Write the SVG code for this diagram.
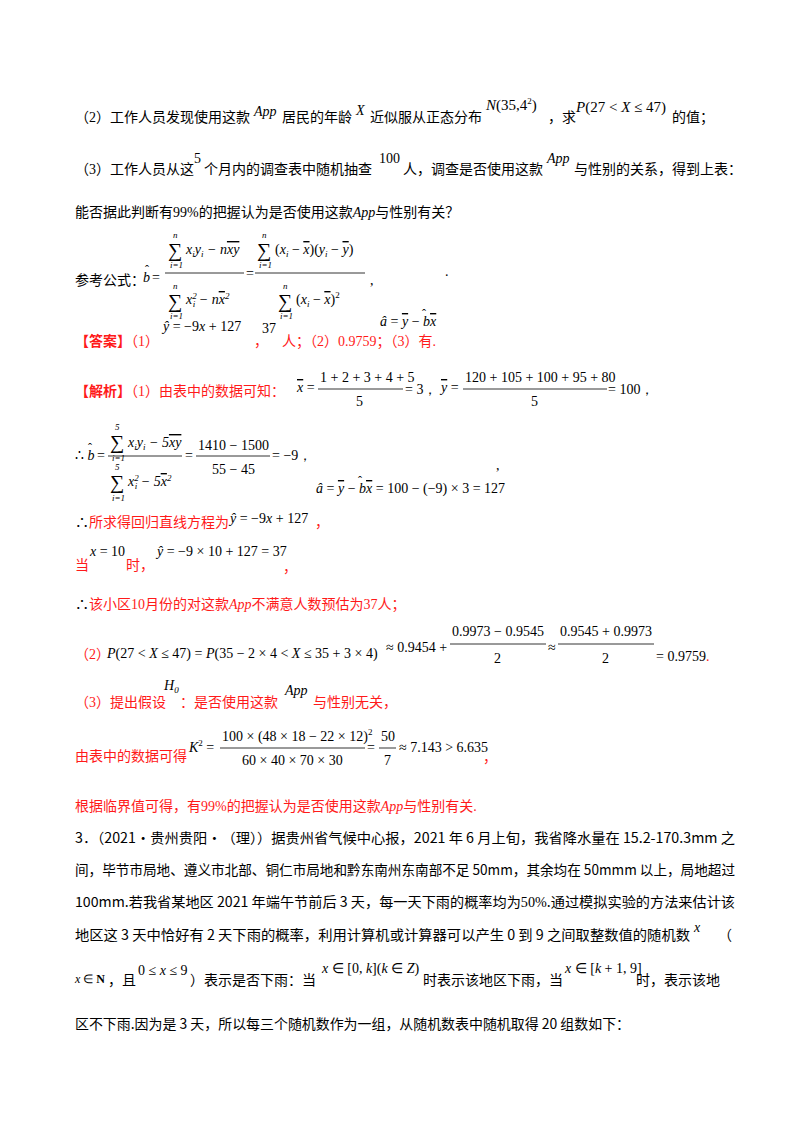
<svg xmlns="http://www.w3.org/2000/svg" width="800" height="1132" viewBox="0 0 800 1132">
<style>
text{font-family:"Liberation Serif","Noto Sans CJK SC",serif;font-size:14px;fill:#000}
.c{font-family:"Noto Sans CJK SC",sans-serif}
.r{fill:#ff1a1a}
.m{font-family:"Liberation Serif",serif;font-size:14px}
.i{font-style:italic}
.s{font-size:9px}
.sg{font-family:"Liberation Serif",serif;font-size:20px}
.hat{font-family:"Liberation Serif",serif;font-size:12px}
.rb{fill:#ff1a1a;font-weight:bold}
line{stroke:#000;stroke-width:0.8}
</style>
<rect width="800" height="1132" fill="#fff"/>
<g id="q2">
<text x="75" y="122">（2）工作人员发现使用这款</text>
<text x="254" y="116" class="m i">App</text>
<text x="282" y="122">居民的年龄</text>
<text x="356" y="115" class="m i">X</text>
<text x="370" y="122">近似服从正态分布</text>
<text x="486" y="110" class="m" style="font-size:15px"><tspan class="i">N</tspan>(35,4<tspan class="s" dy="-6">2</tspan><tspan dy="6">)</tspan></text>
<text x="548" y="122">，求</text>
<text x="576" y="112" class="m" style="font-size:15px"><tspan class="i">P</tspan>(27 &lt; <tspan class="i">X</tspan> ≤ 47)</text>
<text x="672" y="122">的值；</text>
</g>
<g id="q3">
<text x="75" y="174">（3）工作人员从这</text>
<text x="194" y="163" class="m">5</text>
<text x="204" y="174">个月内的调查表中随机抽查</text>
<text x="379" y="163" class="m">100</text>
<text x="403" y="174">人，调查是否使用这款</text>
<text x="547" y="163" class="m i">App</text>
<text x="574" y="174">与性别的关系，得到上表：</text>
<text x="75" y="217">能否据此判断有<tspan class="m">99%</tspan>的把握认为是否使用这款<tspan class="m i">App</tspan>与性别有关？</text>
</g>
<g id="formula">
<text x="75" y="285">参考公式：</text>
<text x="143" y="282" class="m i">b</text><text x="145" y="274" class="hat">ˆ</text>
<text x="152" y="282" class="m">=</text>
<text x="173" y="238" class="m i s">n</text>
<text x="168" y="257" class="sg">∑</text>
<text x="186" y="254" class="m i">x<tspan class="s" dy="3">i</tspan><tspan dy="-3">y</tspan><tspan class="s" dy="3">i</tspan><tspan dy="-3"> − n</tspan><tspan text-decoration="overline">xy</tspan></text>
<text x="170" y="268" class="m i s">i=1</text>
<line x1="165" y1="273" x2="244" y2="273"/>
<text x="173" y="289" class="m i s">n</text>
<text x="168" y="308" class="sg">∑</text>
<text x="186" y="304" class="m i">x<tspan class="s" dy="-5">2</tspan><tspan class="s" dx="-4" dy="8">i</tspan><tspan dy="-3"> − n</tspan><tspan text-decoration="overline">x</tspan><tspan class="s" dy="-5">2</tspan></text>
<text x="170" y="319" class="m i s">i=1</text>
<text x="246" y="278" class="m">=</text>
<text x="262" y="238" class="m i s">n</text>
<text x="257" y="257" class="sg">∑</text>
<text x="275" y="254" class="m">(<tspan class="i">x</tspan><tspan class="s i" dy="3">i</tspan><tspan dy="-3"> − </tspan><tspan class="i" text-decoration="overline">x</tspan>)(<tspan class="i">y</tspan><tspan class="s i" dy="3">i</tspan><tspan dy="-3"> − </tspan><tspan class="i" text-decoration="overline">y</tspan>)</text>
<text x="259" y="268" class="m i s">i=1</text>
<line x1="255" y1="273" x2="365" y2="273"/>
<text x="283" y="289" class="m i s">n</text>
<text x="278" y="308" class="sg">∑</text>
<text x="296" y="304" class="m">(<tspan class="i">x</tspan><tspan class="s i" dy="3">i</tspan><tspan dy="-3"> − </tspan><tspan class="i" text-decoration="overline">x</tspan>)<tspan class="s" dy="-6">2</tspan></text>
<text x="280" y="319" class="m i s">i=1</text>
<text x="370" y="285" class="m">,</text>
<text x="380" y="326" class="m"><tspan class="i">â</tspan> = <tspan class="i" text-decoration="overline">y</tspan> − <tspan class="i">b</tspan><tspan class="i" text-decoration="overline">x</tspan></text>
<text x="422" y="318" class="hat">ˆ</text>
<text x="445" y="276" class="m">.</text>
</g>
<g id="answer">
<text x="75" y="346" class="rb">【答案】<tspan font-weight="normal">（1）</tspan></text>
<text x="163" y="331" class="m"><tspan class="i">ŷ</tspan> = −9<tspan class="i">x</tspan> + 127</text>
<text x="254" y="346" class="r">，</text>
<text x="262" y="333" class="m">37</text>
<text x="282" y="346" class="r">人；（2）<tspan class="m">0.9759</tspan>；（3）有.</text>
</g>
<g id="analysis1">
<text x="75" y="396" class="rb">【解析】<tspan font-weight="normal">（1）由表中的数据可知：</tspan></text>
<text x="297" y="392" class="m"><tspan class="i" text-decoration="overline">x</tspan> =</text>
<text x="320" y="382" class="m">1 + 2 + 3 + 4 + 5</text>
<line x1="318" y1="389" x2="403" y2="389"/>
<text x="356" y="406" class="m">5</text>
<text x="405" y="394" class="m">= 3，</text>
<text x="441" y="392" class="m"><tspan class="i" text-decoration="overline">y</tspan> =</text>
<text x="465" y="382" class="m">120 + 105 + 100 + 95 + 80</text>
<line x1="463" y1="389" x2="607" y2="389"/>
<text x="531" y="406" class="m">5</text>
<text x="608" y="394" class="m">= 100，</text>
<text x="75" y="460" class="m">∴ <tspan class="i">b</tspan></text><text x="88" y="452" class="hat">ˆ</text>
<text x="97" y="460" class="m">=</text>
<text x="115" y="430" class="m i s">5</text>
<text x="110" y="449" class="sg">∑</text>
<text x="128" y="447" class="m i">x<tspan class="s" dy="3">i</tspan><tspan dy="-3">y</tspan><tspan class="s" dy="3">i</tspan><tspan dy="-3"> − 5</tspan><tspan text-decoration="overline">xy</tspan></text>
<text x="112" y="461" class="m i s">i=1</text>
<line x1="108" y1="456" x2="182" y2="456"/>
<text x="115" y="470" class="m i s">5</text>
<text x="110" y="489" class="sg">∑</text>
<text x="128" y="486" class="m i">x<tspan class="s" dy="-5">2</tspan><tspan class="s" dx="-4" dy="8">i</tspan><tspan dy="-3"> − 5</tspan><tspan text-decoration="overline">x</tspan><tspan class="s" dy="-5">2</tspan></text>
<text x="112" y="501" class="m i s">i=1</text>
<text x="185" y="460" class="m">=</text>
<text x="198" y="450" class="m">1410 − 1500</text>
<line x1="196" y1="456" x2="270" y2="456"/>
<text x="212" y="474" class="m">55 − 45</text>
<text x="272" y="460" class="m">= −9，</text>
<text x="316" y="493" class="m"><tspan class="i">â</tspan> = <tspan class="i" text-decoration="overline">y</tspan> − <tspan class="i">b</tspan><tspan class="i" text-decoration="overline">x</tspan> = 100 − (−9) × 3 = 127</text>
<text x="358" y="485" class="hat">ˆ</text>
<text x="496" y="470" class="m">,</text>
<text x="75" y="527" class="r"><tspan fill="#000">∴</tspan>所求得回归直线方程为</text>
<text x="230" y="523" class="m"><tspan class="i">ŷ</tspan> = −9<tspan class="i">x</tspan> + 127</text>
<text x="315" y="527" class="r">，</text>
<text x="75" y="570" class="r">当</text>
<text x="90" y="556" class="m"><tspan class="i">x</tspan> = 10</text>
<text x="126" y="570" class="r">时，</text>
<text x="157" y="556" class="m"><tspan class="i">ŷ</tspan> = −9 × 10 + 127 = 37</text>
<text x="283" y="572" class="r">，</text>
<text x="75" y="609" class="r"><tspan fill="#000">∴</tspan>该小区<tspan class="m">10</tspan>月份的对这款<tspan class="m i">App</tspan>不满意人数预估为<tspan class="m">37</tspan>人；</text>
</g>
<g id="analysis2">
<text x="75" y="659" class="r">（2）</text>
<text x="107" y="658" class="m"><tspan class="i">P</tspan>(27 &lt; <tspan class="i">X</tspan> ≤ 47) = <tspan class="i">P</tspan>(35 − 2 × 4 &lt; <tspan class="i">X</tspan> ≤ 35 + 3 × 4)</text>
<text x="386" y="652" class="m">≈ 0.9454 +</text>
<text x="452" y="636" class="m">0.9973 − 0.9545</text>
<line x1="450" y1="644" x2="546" y2="644"/>
<text x="494" y="663" class="m">2</text>
<text x="548" y="652" class="m">≈</text>
<text x="560" y="636" class="m">0.9545 + 0.9973</text>
<line x1="558" y1="644" x2="654" y2="644"/>
<text x="602" y="663" class="m">2</text>
<text x="656" y="661" class="m">= 0.9759<tspan class="r">.</tspan></text>
<text x="75" y="707" class="r">（3）提出假设</text>
<text x="164" y="690" class="m i">H<tspan class="s" dy="3">0</tspan></text>
<text x="180" y="707" class="r">：是否使用这款</text>
<text x="285" y="695" class="m i">App</text>
<text x="313" y="707" class="r">与性别无关，</text>
<text x="75" y="761" class="r">由表中的数据可得</text>
<text x="189" y="752" class="m"><tspan class="i">K</tspan><tspan class="s" dy="-6">2</tspan><tspan dy="6"> =</tspan></text>
<text x="222" y="741" class="m">100 × (48 × 18 − 22 × 12)<tspan class="s" dy="-6">2</tspan></text>
<line x1="220" y1="748" x2="365" y2="748"/>
<text x="242" y="765" class="m">60 × 40 × 70 × 30</text>
<text x="367" y="752" class="m">=</text>
<text x="381" y="741" class="m">50</text>
<line x1="379" y1="748" x2="396" y2="748"/>
<text x="384" y="765" class="m">7</text>
<text x="399" y="752" class="m">≈ 7.143 &gt; 6.635</text>
<text x="483" y="762" class="r">，</text>
<text x="75" y="811" class="r">根据临界值可得，有<tspan class="m">99%</tspan>的把握认为是否使用这款<tspan class="m i">App</tspan>与性别有关.</text>
</g>
<g id="q3next">
<text x="75" y="843" class="c" textLength="660" lengthAdjust="spacingAndGlyphs">3．（2021•贵州贵阳•（理））据贵州省气候中心报，2021 年 6 月上旬，我省降水量在 15.2-170.3mm 之</text>
<text x="75" y="875" class="c" textLength="660" lengthAdjust="spacingAndGlyphs">间，毕节市局地、遵义市北部、铜仁市局地和黔东南州东南部不足 50mm，其余均在 50mmm 以上，局地超过</text>
<text x="75" y="907" class="c" textLength="660" lengthAdjust="spacingAndGlyphs">100mm.若我省某地区 2021 年端午节前后 3 天，每一天下雨的概率均为<tspan class="m">50%</tspan>.通过模拟实验的方法来估计该</text>
<text x="75" y="940" class="c" textLength="615" lengthAdjust="spacingAndGlyphs">地区这 3 天中恰好有 2 天下雨的概率，利用计算机或计算器可以产生 0 到 9 之间取整数值的随机数</text>
<text x="694" y="932" class="m i">x</text>
<text x="718" y="940" class="c">（</text>
<text x="75" y="983" class="m" style="font-size:12px"><tspan class="i">x</tspan> ∈ <tspan font-weight="bold">N</tspan></text>
<text x="108" y="985" class="c">，且</text>
<text x="138" y="975" class="m">0 ≤ <tspan class="i">x</tspan> ≤ 9</text>
<text x="190" y="985" class="c">）表示是否下雨：当</text>
<text x="322" y="973" class="m"><tspan class="i">x</tspan> ∈ [0, <tspan class="i">k</tspan>](<tspan class="i">k</tspan> ∈ <tspan class="i">Z</tspan>)</text>
<text x="423" y="985" class="c">时表示该地区下雨，当</text>
<text x="565" y="973" class="m"><tspan class="i">x</tspan> ∈ [<tspan class="i">k</tspan> + 1, 9]</text>
<text x="636" y="985" class="c">时，表示该地</text>
<text x="75" y="1029" class="c" textLength="555" lengthAdjust="spacingAndGlyphs">区不下雨.因为是 3 天，所以每三个随机数作为一组，从随机数表中随机取得 20 组数如下：</text>
</g>
</svg>
